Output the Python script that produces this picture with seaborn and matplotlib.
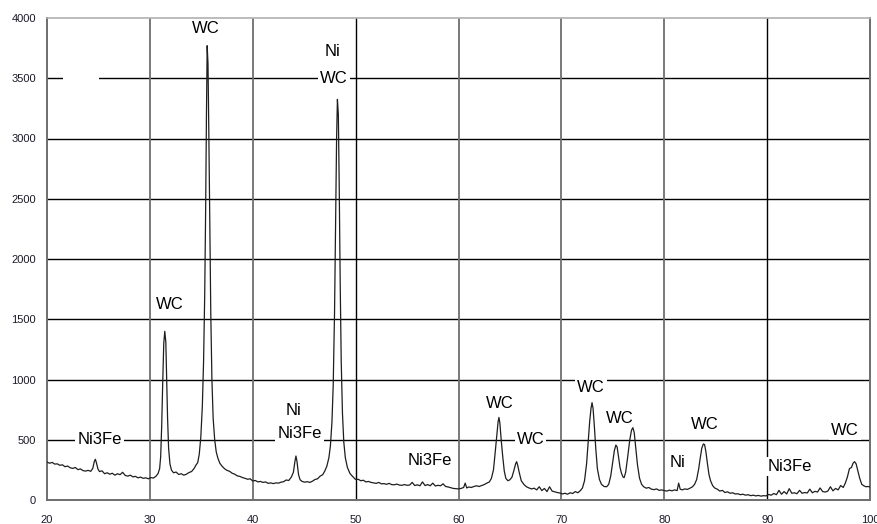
import numpy as np
import pandas as pd
import seaborn as sns
import matplotlib.pyplot as plt

# XRD scan (2-theta in degrees, counts)
two_theta = [
    20.00, 20.25, 20.50, 20.75, 21.00, 21.25, 21.50, 21.75, 22.00, 22.25,
    22.50, 22.75, 23.00, 23.25, 23.50, 23.75, 24.00, 24.25, 24.45, 24.60,
    24.70, 24.80, 24.95, 25.10, 25.35, 25.60, 25.85, 26.10, 26.35, 26.60,
    26.85, 27.10, 27.35, 27.60, 27.85, 28.10, 28.35, 28.60, 28.85, 29.10,
    29.35, 29.60, 29.85, 30.10, 30.35, 30.60,
    30.80, 30.95, 31.05, 31.15, 31.25, 31.35, 31.45, 31.55, 31.63, 31.72,
    31.82, 31.95, 32.10, 32.30, 32.55, 32.80, 33.05, 33.30, 33.55, 33.80,
    34.05, 34.30, 34.50, 34.65, 34.80, 34.95, 35.10, 35.22, 35.33, 35.42,
    35.50, 35.57, 35.65, 35.73, 35.82, 35.92, 36.03, 36.15, 36.30, 36.45,
    36.60, 36.80, 37.00, 37.25, 37.50, 37.75, 38.00, 38.25, 38.50, 38.75,
    39.00, 39.25, 39.50, 39.75, 40.00, 40.25, 40.50, 40.75, 41.00, 41.25,
    41.50, 41.75, 42.00, 42.25, 42.50, 42.75, 43.00, 43.25, 43.50, 43.75,
    43.95, 44.10, 44.20, 44.30, 44.45, 44.60, 44.80, 45.05, 45.30, 45.55,
    45.80, 46.05, 46.30, 46.55, 46.80, 47.00, 47.20, 47.40, 47.55, 47.70,
    47.82, 47.95, 48.05, 48.15, 48.23, 48.32, 48.40, 48.50, 48.60, 48.72,
    48.85, 49.00, 49.20, 49.45, 49.70, 50.00, 50.25, 50.50, 50.75, 51.00,
    51.25, 51.50, 51.75, 52.00, 52.25, 52.50, 52.75, 53.00, 53.25, 53.50,
    53.75, 54.00, 54.25, 54.50, 54.75, 55.00, 55.25, 55.50, 55.75, 56.00,
    56.25, 56.50, 56.75, 57.00, 57.25, 57.50, 57.75, 58.00, 58.25, 58.50,
    58.75, 59.00, 59.25, 59.50, 59.75, 60.00, 60.25, 60.50, 60.65, 60.80,
    61.00, 61.25, 61.50, 61.75, 62.00, 62.25, 62.50, 62.75, 63.00, 63.20,
    63.40, 63.55, 63.70, 63.85, 63.93, 64.02, 64.15, 64.30, 64.45, 64.60,
    64.80, 65.00, 65.20, 65.40, 65.55, 65.65, 65.75, 65.90, 66.10, 66.35,
    66.60, 66.85, 67.10, 67.35, 67.60, 67.85, 68.10, 68.35, 68.60, 68.85,
    69.10, 69.35, 69.60, 69.85, 70.10, 70.35, 70.60, 70.85, 71.10, 71.35,
    71.60, 71.85, 72.05, 72.25, 72.45, 72.60, 72.75, 72.88, 72.98, 73.08,
    73.20, 73.35, 73.50, 73.70, 73.90, 74.15, 74.40, 74.60, 74.80, 74.98,
    75.15, 75.30, 75.42, 75.55, 75.70, 75.85, 76.00, 76.10, 76.25, 76.45,
    76.65, 76.82, 76.95, 77.08, 77.25, 77.40, 77.60, 77.80, 78.00, 78.25,
    78.50, 78.75, 79.00, 79.25, 79.50, 79.75, 80.00, 80.25, 80.50, 80.75,
    81.00, 81.25, 81.40, 81.55, 81.75, 82.00, 82.25, 82.50, 82.75, 82.95,
    83.15, 83.35, 83.50, 83.65, 83.80, 83.92, 84.05, 84.20, 84.35, 84.50,
    84.70, 84.90, 85.15, 85.40, 85.65, 85.90, 86.15, 86.40, 86.65, 86.90,
    87.15, 87.40, 87.65, 87.90, 88.15, 88.40, 88.65, 88.90, 89.15, 89.40,
    89.65, 89.90, 90.15, 90.40, 90.65, 90.90, 91.15, 91.40, 91.65, 91.90,
    92.15, 92.40, 92.65, 92.90, 93.15, 93.40, 93.65, 93.90, 94.15, 94.40,
    94.65, 94.90, 95.15, 95.40, 95.65, 95.90, 96.15, 96.40, 96.65, 96.90,
    97.15, 97.40, 97.60, 97.80, 98.00, 98.20, 98.35, 98.50, 98.65, 98.80,
    99.00, 99.20, 99.40, 99.60, 99.80, 100.00,
]
counts = [
    315, 305, 312, 298, 300, 288, 292, 276, 282, 268,
    262, 270, 252, 258, 244, 240, 246, 238, 262, 320,
    338, 310, 258, 236, 242, 218, 226, 214, 222, 206,
    218, 210, 230, 204, 198, 206, 192, 196, 184, 190,
    180, 184, 176, 186, 182, 198,
    220, 262, 360, 620, 980, 1300, 1400, 1310, 1000, 680,
    430, 300, 248, 226, 232, 212, 218, 206, 214, 228,
    236, 262, 292, 310, 380, 520, 780, 1150, 1700, 2400,
    3200, 3770, 3620, 3050, 2300, 1550, 1000, 680, 500, 400,
    350, 305, 282, 260, 246, 238, 222, 214, 200, 196,
    186, 180, 172, 176, 158, 162, 150, 154, 146, 150,
    138, 142, 136, 142, 140, 148, 152, 166, 162, 190,
    230, 320, 365, 320, 210, 168, 154, 148, 152, 146,
    156, 170, 176, 198, 210, 240, 280, 350, 450, 650,
    950, 1550, 2300, 3000, 3325, 3200, 2650, 1800, 1150, 720,
    480, 350, 270, 220, 196, 170, 172, 160, 164, 150,
    154, 146, 142, 138, 146, 134, 136, 130, 138, 128,
    126, 132, 124, 122, 128, 122, 124, 146, 120, 126,
    118, 150, 120, 128, 118, 140, 116, 122, 118, 134,
    112, 108, 102, 96, 94, 92, 96, 104, 140, 100,
    108, 104, 112, 118, 112, 120, 128, 140, 150, 180,
    250, 380, 520, 650, 685, 640, 500, 360, 240, 180,
    160, 168, 190, 250, 300, 318, 290, 230, 160, 130,
    110, 100, 92, 98, 84, 110, 78, 96, 70, 110,
    74, 68, 62, 58, 50, 56, 48, 60, 54, 70,
    60, 78, 100, 160, 300, 480, 650, 760, 808, 760,
    620, 420, 260, 170, 130, 112, 110, 130, 200, 310,
    410, 456, 440, 360, 270, 220, 190, 186, 230, 360,
    500, 580, 600, 560, 420, 290, 180, 130, 110, 98,
    104, 90, 86, 92, 80, 84, 78, 74, 82, 76,
    84, 78, 140, 90, 84, 92, 88, 98, 110, 130,
    170, 260, 350, 430, 465, 460, 400, 300, 210, 160,
    120, 100, 90, 74, 80, 62, 68, 56, 60, 50,
    52, 44, 48, 40, 44, 36, 40, 34, 38, 32,
    36, 34, 46, 40, 54, 44, 80, 48, 70, 50,
    94, 56, 60, 52, 80, 56, 62, 58, 90, 60,
    72, 66, 100, 70, 66, 74, 110, 76, 96, 84,
    120, 104, 140, 190, 260, 270, 305, 318, 300, 250,
    180, 130, 118, 110, 112, 108,
]

# phase labels placed on the peaks
label_text = ["Ni3Fe", "WC", "WC", "Ni", "WC", "Ni", "Ni3Fe", "Ni3Fe",
              "WC", "WC", "WC", "WC", "Ni", "WC", "Ni3Fe", "WC"]
label_x = [25.1, 31.95, 35.45, 47.8, 47.9, 44.0, 44.55, 57.2,
           64.0, 67.0, 72.9, 75.7, 81.3, 83.95, 92.2, 97.55]
label_y = [500, 1620, 3915, 3720, 3500, 740, 555, 325,
           800, 500, 930, 680, 315, 630, 275, 580]

x_ticks = [20, 30, 40, 50, 60, 70, 80, 90, 100]
y_ticks = [0, 500, 1000, 1500, 2000, 2500, 3000, 3500, 4000]

df = pd.DataFrame({"two_theta": two_theta, "counts": counts})

sns.set_theme(style="white")
plt.rcParams["font.family"] = ["Liberation Sans", "DejaVu Sans"]

fig = plt.figure(figsize=(8.78, 5.24), dpi=100)
ax = fig.add_axes([47 / 878, 24 / 524, 823 / 878, 482 / 524])

# grid: black horizontal lines, vertical lines mostly grey (50 and 90 look black)
for yv in y_ticks[1:-1]:
    ax.axhline(yv, color="black", lw=1.0, zorder=1)
for xv in x_ticks[1:-1]:
    if xv in (50, 90):
        ax.axvline(xv, color="black", lw=1.0, zorder=1)
    else:
        ax.axvline(xv, color="#6e6e6e", lw=1.3, zorder=1)

sns.lineplot(data=df, x="two_theta", y="counts", color="#1e1e1e", lw=0.9,
             estimator=None, sort=False, ax=ax, zorder=4)

for txt, xv, yv in zip(label_text, label_x, label_y):
    ax.text(xv, yv, txt, fontsize=12, ha="center", va="center", color="black",
            bbox=dict(boxstyle="square,pad=0.12", fc="white", ec="none"), zorder=2)
# white patch that interrupts the 3500 line at the left
ax.text(23.3, 3500, "       ", fontsize=12, ha="center", va="center",
        bbox=dict(boxstyle="square,pad=0.1", fc="white", ec="none"), zorder=2)

ax.set_xlim(20, 100)
ax.set_ylim(0, 4000)
ax.set_xticks(x_ticks)
ax.set_yticks(y_ticks)
ax.set_xlabel("")
ax.set_ylabel("")
ax.tick_params(axis="both", labelsize=8, colors="#1a1a2a", length=5,
               direction="out", width=1)
ax.tick_params(axis="x", pad=6)
ax.tick_params(axis="y", pad=3)

for side in ["left", "right", "bottom"]:
    ax.spines[side].set_color("#6e6e6e")
    ax.spines[side].set_linewidth(1.4)
ax.spines["top"].set_color("#b0b0b0")
ax.spines["top"].set_linewidth(1.2)

plt.savefig("out.png", dpi=100)
